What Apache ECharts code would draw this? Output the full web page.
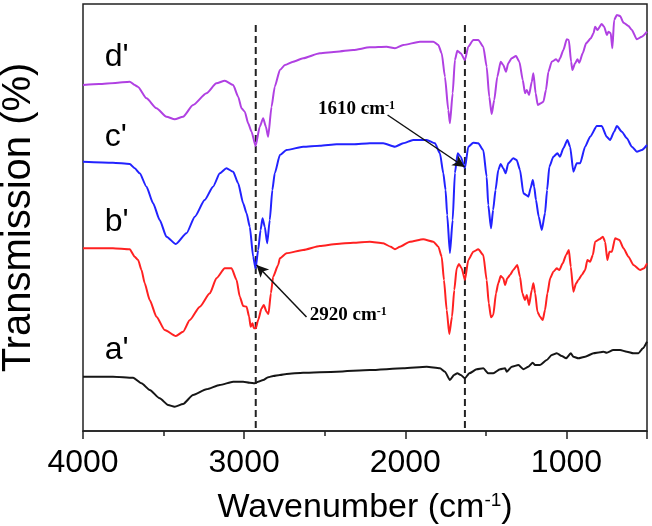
<!DOCTYPE html>
<html><head><meta charset="utf-8">
<script src="https://cdn.jsdelivr.net/npm/echarts@6/dist/echarts.min.js"></script>
<style>html,body{margin:0;padding:0;background:#fff}#c{width:652px;height:526px}</style>
</head><body><div id="c"></div>
<script>
// a' (black)
const aWn=[4000,3814,3689,3637,3586,3524,3472,3431,3379,3317,3234,3151,3068,3006,2965,2934,2913,2882,2851,2820,2778,2737,2634,2426,2220,2013,1867,1785,1754,1723,1698,1677,1656,1630,1603,1557,1516,1485,1454,1412,1381,1370,1339,1298,1267,1236,1209,1195,1164,1122,1091,1060,1029,1002,973,957,926,884,832,791,770,750,709,667,625,584,553,526,500];
const aT=[54.3,54.3,53.3,47.7,41,32.7,26,24.3,27,36,41.7,46,49.3,49.3,48.3,47.7,49.3,51,53.7,55,56,57,58.3,59.3,61,62.7,64.3,62.7,59.3,51,56,57.7,56,52.7,57.7,61.7,62.7,57.7,57.7,61.7,62.7,59.3,64.3,66,61.7,64.3,68.3,66,66,71,76,77.7,75,72.7,77.7,74.3,72.7,74.3,77.7,78.7,79.3,78.3,81,81,79.3,77.7,77.7,82.7,89.3];
// b' (red)
const bWn=[4000,3814,3710,3679,3658,3637,3617,3586,3544,3493,3424,3379,3337,3275,3213,3172,3120,3078,3047,3027,3006,2985,2969,2960,2948,2940,2928,2913,2892,2878,2861,2849,2834,2820,2789,2778,2737,2634,2530,2426,2323,2220,2137,2091,2064,2033,1971,1889,1826,1795,1774,1760,1743,1727,1710,1696,1681,1667,1650,1630,1609,1578,1547,1516,1495,1482,1468,1454,1437,1423,1408,1392,1381,1367,1350,1330,1305,1288,1274,1257,1246,1232,1215,1205,1194,1180,1164,1147,1133,1118,1101,1081,1060,1044,1023,1002,985,973,957,940,926,905,884,870,853,836,822,795,774,760,746,733,718,698,671,646,615,584,543,518,500];
const bT=[182.7,182.7,181.7,174.3,171,161,147.7,131,114.3,101,95,99.3,111,124.3,137.7,152.7,162.7,162.7,151,134.3,125,124.3,114.3,104.3,107.7,102.7,102.7,111,122.7,126,119.3,117,137.7,154.3,166,172.7,177.7,181,185,187,188.3,189.3,187.7,184.3,181.7,184.3,189.3,191.7,189.3,184.3,174.3,151,121,97,114.3,141,162.7,167,162.7,151,171,179.3,181.7,176,151,127.7,113.7,116,137.7,147.7,155,152.7,146,152.7,156,161,166,154.3,137.7,131,136,126,141,147.7,137.7,119.3,114.3,111,121,137.7,152.7,159.3,162.7,161,167.7,176,181,164.3,139.3,147.7,151,156,161,171,169.3,176,189.3,191.7,194.3,189.3,171,179.3,179.3,192.7,191,182.7,174.3,166,161,162.7,167.7];
// c' (blue)
const cWn=[4000,3814,3710,3679,3648,3606,3565,3524,3482,3424,3358,3306,3245,3193,3151,3110,3068,3037,3006,2985,2965,2944,2929,2913,2898,2886,2872,2857,2841,2825,2810,2778,2737,2634,2530,2426,2323,2220,2137,2064,2013,1951,1867,1816,1785,1764,1750,1740,1723,1706,1692,1675,1656,1630,1609,1578,1547,1516,1495,1485,1468,1455,1440,1423,1408,1392,1377,1361,1330,1309,1288,1267,1250,1236,1222,1209,1200,1189,1172,1153,1133,1120,1106,1081,1056,1040,1019,994,977,957,936,915,884,853,811,781,750,729,704,687,656,625,594,563,532,500];
const cT=[269.3,268.3,267,262.7,257.7,244.3,227.7,211,194.3,187,197.7,214.3,231,244.3,257.7,262.7,259.3,247.7,227.7,217.7,204.3,174.3,162.7,181,201,212.7,204.3,187.7,211,241,257.7,276,281,284.3,285.3,286.7,286.7,287.7,287.7,284.3,287.7,291,291,287.7,277.7,257.7,241,216,178,211,258,277.7,274.3,262.7,284.3,288.3,287.7,281,254.3,226,202.7,221,241,261,267,262.7,257.7,267.7,272.7,271,261,237.7,236,234.3,243,251,244.3,231,214.3,201,217.7,241,264.3,274.3,277.7,274.3,282.7,291,284.3,259.3,267.7,267.7,284.3,294.3,305,305,294.3,291,299.3,305,299.3,292.7,284.3,279.3,281,286];
// d' (purple)
const dWn=[4000,3900,3800,3710,3679,3660,3606,3544,3482,3431,3379,3317,3234,3172,3120,3068,3037,3016,2996,2975,2954,2929,2903,2882,2865,2851,2830,2810,2778,2747,2696,2634,2530,2426,2323,2220,2116,2064,2013,1909,1826,1795,1774,1754,1733,1723,1706,1692,1677,1656,1630,1609,1578,1547,1516,1495,1479,1464,1448,1429,1408,1392,1375,1361,1340,1313,1292,1271,1257,1246,1232,1215,1205,1191,1178,1159,1143,1127,1112,1091,1064,1050,1040,1019,998,985,971,963,946,932,920,899,878,849,832,822,808,781,766,749,739,725,715,704,687,667,646,615,594,563,532,500];
const dT=[346,347,348,349.3,346,344.3,332.7,322.7,314.3,311.7,314.3,326,337.7,347.7,350.3,346,334.3,322.7,319.3,307.7,299.3,285,304.3,312.7,304.3,294.3,324.3,344.3,361,366,369.3,372.7,377.7,379.3,381,383.7,384.3,382.7,386,389.3,389.3,386,377.7,354.3,321,307.7,337.7,371,380.3,377.7,371,384.3,391,391,384.3,364.3,334.3,317,331,354.3,369.3,366,359.3,367.7,372.7,375,369.3,351,337.7,341,336,349.3,357.7,337.7,326,327.7,329.3,341,359.3,369.3,371.7,369.3,372.7,381,391.7,391,369.3,361,367.7,371.7,368.3,377.7,387.7,392.7,397.7,404.3,401,407,404.3,396,399.3,397.7,382.7,411,416,415,408.3,405,401,391.7,394.3,399.3];

const tickLabels=[4000,3000,2000,1000];
const majorTicks=[4000,3000,2000,1000,500];
const minorTicks=[3500,2500,1500];
const guideLines=[2928,1630];
const curveNames=["a'","b'","c'","d'"];
const curveLabelPos=[[3865,81],[3865,209],[3865,294],[3865,374]];
const annotations=[
  {text:'1610 cm', sup:'-1', at:[2542,322], from:[2110,316], to:[1632,264]},
  {text:'2920 cm', sup:'-1', at:[2593,116], from:[2613,114], to:[2923,166]}
];
const colors=['#161616','#ff2121','#2222ff','#b040e2'];

const zip=(w,t)=>w.map((x,i)=>[x,t[i]]);
const curves=[zip(aWn,aT),zip(bWn,bT),zip(cWn,cT),zip(dWn,dT)];

const chart=echarts.init(document.getElementById('c'));
const series=curves.map((d,i)=>({
  type:'line', data:d, showSymbol:false, symbol:'none', silent:true,
  smooth:0.2, smoothMonotone:'x',
  lineStyle:{color:colors[i], width:2}, z:3
}));
guideLines.forEach(g=>series.push({
  type:'line', data:[[g,3],[g,409]], showSymbol:false, symbol:'none', silent:true,
  lineStyle:{color:'#222', width:2, type:[7,4]}, z:2
}));
series.push({
  type:'line', data:[], silent:true,
  markLine:{silent:true, symbol:['none','arrow'], symbolSize:[9,12],
    label:{show:false},
    lineStyle:{color:'#111', width:1.5, type:'solid'},
    data:annotations.map(a=>[{coord:a.from},{coord:a.to}])}
});

const font='Liberation Sans';
chart.setOption({
  animation:false,
  grid:{left:83,right:5,top:4,bottom:95,show:true,borderColor:'#222',borderWidth:1.5,containLabel:false,outerBoundsMode:'none'},
  xAxis:[{
    type:'value', min:500, max:4000, inverse:true, interval:500, position:'bottom',
    axisLine:{show:true,lineStyle:{color:'#222',width:1.5}},
    axisTick:{show:true,customValues:majorTicks,length:8,lineStyle:{color:'#222',width:1.5}},
    axisLabel:{customValues:tickLabels,formatter:v=>String(v),fontSize:32,fontFamily:font,color:'#000',margin:16},
    splitLine:{show:false},
    name:'{a|Wavenumber (cm}{s|-1}{a|)}', nameLocation:'middle', nameGap:60,
    nameTextStyle:{fontSize:34,fontFamily:font,color:'#000',
      rich:{a:{fontSize:34,fontFamily:font,color:'#000'},s:{fontSize:19,fontFamily:font,color:'#000',verticalAlign:'top'}}}
  },{
    type:'value', min:500, max:4000, inverse:true, interval:500, position:'bottom',
    axisLine:{show:false},
    axisTick:{show:true,customValues:minorTicks,length:5,lineStyle:{color:'#222',width:1.5}},
    axisLabel:{show:false}, splitLine:{show:false}
  }],
  yAxis:{type:'value',min:0,max:427,axisLine:{show:false},axisTick:{show:false},axisLabel:{show:false},splitLine:{show:false},
    name:'Transmission (%)',nameLocation:'middle',nameGap:44,nameRotate:90,
    nameTextStyle:{fontSize:40,fontFamily:font,color:'#000'}},
  series:series
});

const px=v=>chart.convertToPixel({xAxisIndex:0,yAxisIndex:0},v);
const graphics=[];
curveNames.forEach((n,i)=>{
  const p=px(curveLabelPos[i]);
  graphics.push({type:'text',x:p[0],y:p[1],silent:true,
    style:{text:n,fontSize:32,fontFamily:font,fill:'#000',align:'left',verticalAlign:'middle'}});
});
annotations.forEach(a=>{
  const p=px(a.at);
  graphics.push({type:'text',x:p[0],y:p[1],silent:true,z:10,
    style:{text:'{n|'+a.text+'}{s|'+a.sup+'}',align:'left',verticalAlign:'middle',
      rich:{n:{fontSize:19,fontWeight:'bold',fontFamily:'Liberation Serif',fill:'#000',color:'#000'},
            s:{fontSize:12,fontWeight:'bold',fontFamily:'Liberation Serif',fill:'#000',color:'#000',verticalAlign:'top'}}}});
});
chart.setOption({graphic:graphics});
</script></body></html>
